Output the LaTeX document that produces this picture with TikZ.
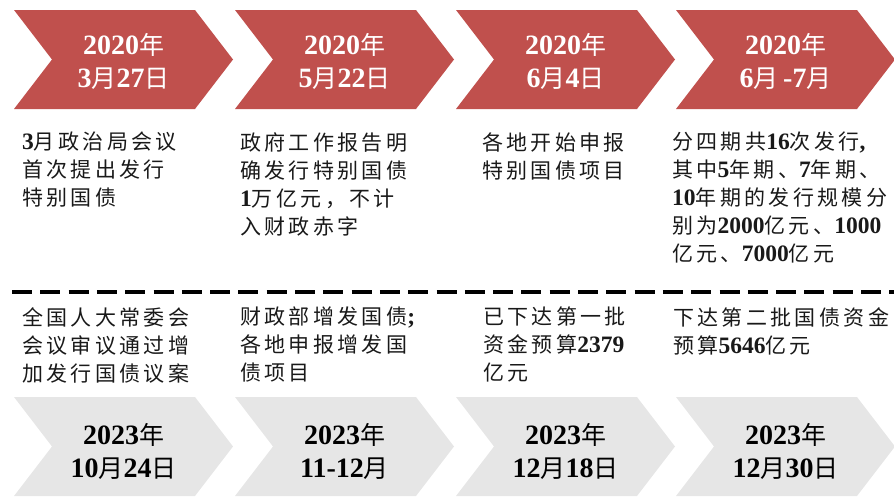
\documentclass[tikz,border=0pt]{standalone}
\usepackage{fontspec}
\setmainfont{Liberation Serif}[Scale=1.12]
\newfontfamily\cjk[LetterSpace=16]{Noto Sans CJK SC}
\newcommand\zh[1]{{\cjk #1}}
\newcommand\nm[1]{{\bfseries #1}}
\definecolor{redc}{HTML}{C0504D}
\definecolor{grayc}{HTML}{E6E6E6}
\newcommand\chevron[3]{\fill[#3] (#1,#2) -- ++(181,0) -- ++(38,49.5) -- ++(-38,49.5) -- ++(-181,0) -- ++(38,-49.5) -- cycle;}
\tikzset{
  body/.style={anchor=north west, inner sep=0pt, align=left, font=\fontsize{21}{28}\selectfont, text=black!90},
  datelbl/.style={inner sep=0pt, align=center, font=\fontsize{25}{33}\selectfont},
  divider/.style={line width=4pt, dash pattern=on 20pt off 8.3pt, black}
}
\begin{document}
\begin{tikzpicture}[x=1pt,y=-1pt]
\useasboundingbox (0,0) rectangle (894,498);
% top chevrons
\chevron{14}{10}{redc}
\chevron{235}{10}{redc}
\chevron{456}{10}{redc}
\chevron{676}{10}{redc}
% bottom chevrons
\chevron{14}{397}{grayc}
\chevron{235}{397}{grayc}
\chevron{456}{397}{grayc}
\chevron{676}{397}{grayc}
% date labels top
\node[datelbl, text=white] (d1) at (123.5,61) {\nm{2020}\zh{年}\\\nm{3}\zh{月}\nm{27}\zh{日}};
\node[datelbl, text=white] (d2) at (344.5,61) {\nm{2020}\zh{年}\\\nm{5}\zh{月}\nm{22}\zh{日}};
\node[datelbl, text=white] (d3) at (565.5,61) {\nm{2020}\zh{年}\\\nm{6}\zh{月}\nm{4}\zh{日}};
\node[datelbl, text=white] (d4) at (785.5,61) {\nm{2020}\zh{年}\\\nm{6}\zh{月}\,\nm{-7}\zh{月}};
% date labels bottom
\node[datelbl, text=black] (e1) at (123.5,451.5) {\nm{2023}\zh{年}\\\nm{10}\zh{月}\nm{24}\zh{日}};
\node[datelbl, text=black] (e2) at (344.5,451.5) {\nm{2023}\zh{年}\\\nm{11-12}\zh{月}};
\node[datelbl, text=black] (e3) at (565.5,451.5) {\nm{2023}\zh{年}\\\nm{12}\zh{月}\nm{18}\zh{日}};
\node[datelbl, text=black] (e4) at (785.5,451.5) {\nm{2023}\zh{年}\\\nm{12}\zh{月}\nm{30}\zh{日}};
% top texts
\node[body] (t1) at (22,132) {\nm{3}\zh{月政治局会议}\\\zh{首次提出发行}\\\zh{特别国债}};
\node[body] (t2) at (240,132) {\zh{政府工作报告明}\\\zh{确发行特别国债}\\\nm{1}\zh{万亿元，不计}\\\zh{入财政赤字}};
\node[body] (t3) at (482,132) {\zh{各地开始申报}\\\zh{特别国债项目}};
\node[body] (t4) at (672,132) {\zh{分四期共}\nm{16}\zh{次发行}\nm{,}\\\zh{其中}\nm{5}\zh{年期、}\nm{7}\zh{年期、}\\\nm{10}\zh{年期的发行规模分}\\\zh{别为}\nm{2000}\zh{亿元、}\nm{1000}\\\zh{亿元、}\nm{7000}\zh{亿元}};
% divider
\coordinate (dl) at (12,292);
\coordinate (dr) at (894,292);
\draw[divider] (dl) -- (dr);
% bottom texts
\node[body] (b1) at (22,307) {\zh{全国人大常委会}\\\zh{会议审议通过增}\\\zh{加发行国债议案}};
\node[body] (b2) at (240,307) {\zh{财政部增发国债}\nm{;}\\\zh{各地申报增发国}\\\zh{债项目}};
\node[body] (b3) at (483,307) {\zh{已下达第一批}\\\zh{资金预算}\nm{2379}\\\zh{亿元}};
\node[body] (b4) at (673,307) {\zh{下达第二批国债资金}\\\zh{预算}\nm{5646}\zh{亿元}};
\end{tikzpicture}
\end{document}
